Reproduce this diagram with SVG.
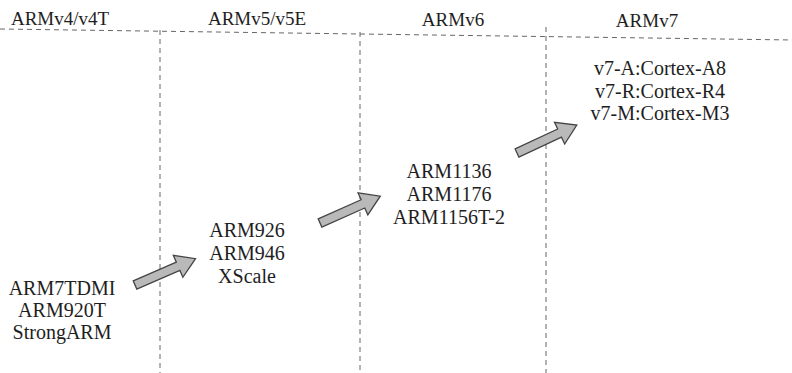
<svg xmlns="http://www.w3.org/2000/svg" width="792" height="373" viewBox="0 0 792 373">
<defs>
<style>
text{font-family:"Liberation Serif",serif;font-size:19px;fill:#1e1e1e;text-anchor:middle}
.n text{font-size:20px}
.grid{stroke:#666;stroke-width:1;stroke-dasharray:5 4;fill:none}
.arr{fill:#b9b9b9;stroke:#444;stroke-width:1.3;stroke-linejoin:miter}
</style>
<polygon id="blk" class="arr" points="0,-4.5 47,-4.5 47,-12 66,0 47,12 47,4.5 0,4.5"/>
</defs>
<g id="grid">
<line class="grid" x1="0" y1="29" x2="792" y2="40"/>
<line class="grid" x1="160" y1="30" x2="160" y2="373"/>
<line class="grid" x1="360" y1="32" x2="360" y2="373"/>
<line class="grid" x1="546" y1="27" x2="546" y2="373"/>
</g>
<g id="headers" font-family="Liberation Serif, serif">
<text x="60" y="25">ARMv4/v4T</text>
<text x="257" y="25">ARMv5/v5E</text>
<text x="453" y="26">ARMv6</text>
<text x="647" y="27">ARMv7</text>
</g>
<g id="node-v4" class="n" font-family="Liberation Serif, serif">
<text x="62" y="295">ARM7TDMI</text>
<text x="62" y="317">ARM920T</text>
<text x="62" y="339">StrongARM</text>
</g>
<g id="node-v5" class="n" font-family="Liberation Serif, serif">
<text x="247" y="237">ARM926</text>
<text x="247" y="260">ARM946</text>
<text x="247" y="283">XScale</text>
</g>
<g id="node-v6" class="n" font-family="Liberation Serif, serif">
<text x="449" y="178">ARM1136</text>
<text x="449" y="201">ARM1176</text>
<text x="449" y="224">ARM1156T-2</text>
</g>
<g id="node-v7" class="n" font-family="Liberation Serif, serif">
<text x="660" y="75">v7-A:Cortex-A8</text>
<text x="660" y="97.5">v7-R:Cortex-R4</text>
<text x="660" y="120">v7-M:Cortex-M3</text>
</g>
<g id="connectors">
<use href="#blk" transform="translate(135,285) rotate(-23.5)"/>
<use href="#blk" transform="translate(320,223) rotate(-24)"/>
<use href="#blk" transform="translate(517,153) rotate(-25)"/>
</g>
</svg>
